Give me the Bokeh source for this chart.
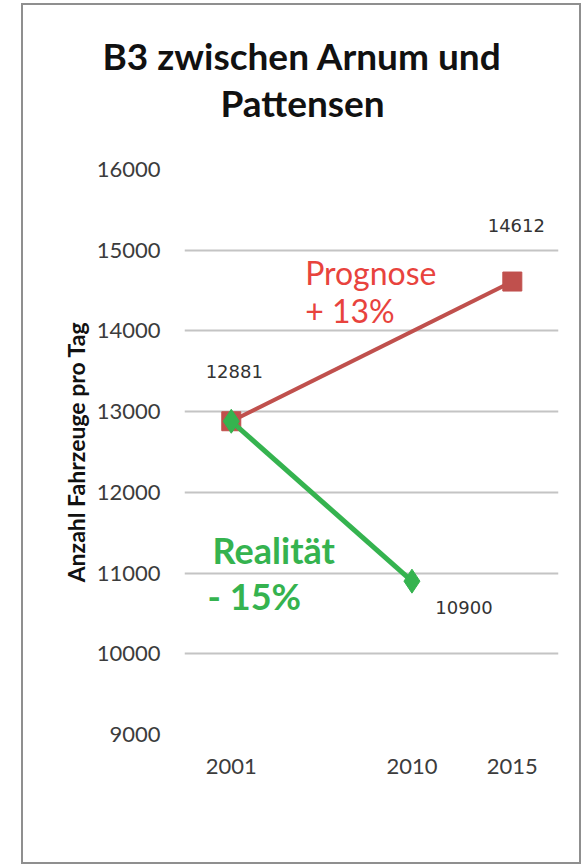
from bokeh.plotting import figure
from bokeh.models import FixedTicker, Title, Label, Spacer, Range1d
from bokeh.layouts import row, column
from bokeh.core.properties import value
from bokeh.embed import file_html
from bokeh.resources import INLINE

# ---- data ----
title_line1 = "B3 zwischen Arnum und"
title_line2 = "Pattensen"
y_axis_label = "Anzahl Fahrzeuge pro Tag"

prognose_years = [2001, 2015]
prognose_values = [12881, 14612]
real_years = [2001, 2010]
real_values = [12881, 10900]

x_tick_values = [2001, 2010, 2015]
y_tick_values = [9000, 10000, 11000, 12000, 13000, 14000, 15000, 16000]

RED_LINE = "#c0504d"
RED_TEXT = "#e8433d"
GREEN = "#35b34f"
TICK_COLOR = "#3c3c3c"

p = figure(width=560, height=861, output_backend="svg", toolbar_location=None,
           x_range=Range1d(1998.67, 2017.30), y_range=Range1d(9000, 16000),
           min_border_left=161, min_border_right=25, min_border_top=164,
           min_border_bottom=132, tools="")
p.styles = {"border": "2px solid #8f8f8f"}
p.background_fill_color = "white"
p.border_fill_color = "white"
p.outline_line_color = None

# titles
t2 = Title(text=title_line2, align="left", offset=36, standoff=90,
           text_font="Lato", text_font_size="37px", text_font_style="bold",
           text_color="#111111")
t1 = Title(text=title_line1, align="left", offset=-82, standoff=-90,
           text_font="Lato", text_font_size="37px", text_font_style="bold",
           text_color="#111111")
p.add_layout(t2, "above")
p.add_layout(t1, "above")

# axes
for ax in (p.xaxis[0], p.yaxis[0]):
    ax.axis_line_color = None
    ax.major_tick_line_color = None
    ax.minor_tick_line_color = None
    ax.major_tick_out = 0
    ax.major_tick_in = 0
    ax.minor_tick_out = 0
    ax.minor_tick_in = 0
    ax.major_label_text_font = "Lato"
    ax.major_label_text_font_size = "22px"
    ax.major_label_text_color = TICK_COLOR
    ax.major_label_standoff = 24

p.xaxis.ticker = FixedTicker(ticks=x_tick_values)
p.yaxis.ticker = FixedTicker(ticks=y_tick_values)
p.yaxis.axis_label = y_axis_label
p.yaxis.axis_label_text_font = "Lato"
p.yaxis.axis_label_text_font_size = "23px"
p.yaxis.axis_label_text_font_style = "bold"
p.yaxis.axis_label_text_color = "#111111"
p.yaxis.axis_label_standoff = 4

p.xgrid.grid_line_color = None
p.ygrid.ticker = FixedTicker(ticks=y_tick_values)
p.ygrid.grid_line_color = "#c4c4c4"
p.ygrid.grid_line_width = 2

# lines
p.line(prognose_years, prognose_values, line_color=RED_LINE, line_width=4)
p.scatter(prognose_years, prognose_values, marker="square", size=19,
          fill_color=RED_LINE, line_color=RED_LINE)
p.line(real_years, real_values, line_color=GREEN, line_width=5)
p.scatter(real_years, real_values, marker="diamond", size=24,
          fill_color=GREEN, line_color=GREEN)

# data labels
lbl_font = value("DejaVu Sans")
p.text(x=[prognose_years[0]], y=[prognose_values[0]], text=[str(prognose_values[0])],
       x_offset=3, y_offset=-50, text_align="center", text_baseline="middle",
       text_font=lbl_font, text_font_size="18px", text_color="#333333")
p.text(x=[prognose_years[1]], y=[prognose_values[1]], text=[str(prognose_values[1])],
       x_offset=4, y_offset=-56, text_align="center", text_baseline="middle",
       text_font=lbl_font, text_font_size="18px", text_color="#333333")
p.text(x=[real_years[1]], y=[real_values[1]], text=[str(real_values[1])],
       x_offset=52, y_offset=26, text_align="center", text_baseline="middle",
       text_font=lbl_font, text_font_size="18px", text_color="#333333")

# annotations
p.add_layout(Label(x=2004.68, y=14719, text="Prognose", text_font="Lato",
                   text_font_size="32px", text_color=RED_TEXT,
                   text_baseline="alphabetic"))
p.add_layout(Label(x=2004.68, y=14247, text="+ 13%", text_font="Lato",
                   text_font_size="32px", text_color=RED_TEXT,
                   text_baseline="alphabetic"))
p.add_layout(Label(x=2000.07, y=11288, text="Realität", text_font="Lato",
                   text_font_size="36px", text_font_style="bold", text_color=GREEN,
                   text_baseline="alphabetic"))
p.add_layout(Label(x=1999.82, y=10716, text="- 15%", text_font="Lato",
                   text_font_size="36px", text_font_style="bold", text_color=GREEN,
                   text_baseline="alphabetic"))

layout = column(Spacer(height=3), row(Spacer(width=21), p))
open("out.html", "w").write(file_html(layout, INLINE))
